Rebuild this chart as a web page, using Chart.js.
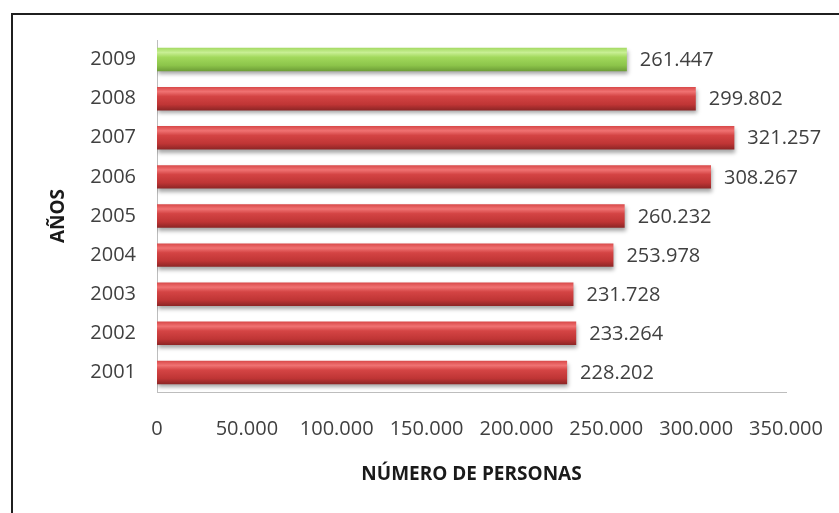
<!DOCTYPE html>
<html>
<head>
<meta charset="utf-8">
<script src="https://cdn.jsdelivr.net/npm/chart.js@4.4.1/dist/chart.umd.min.js"></script>
<style>
    body { margin: 0; background: #fff; }
    #wrap { position: relative; width: 839px; height: 513px; overflow: hidden; }
    #frame { position: absolute; left: 11px; top: 13px; width: 900px; height: 600px;
             border-left: 2px solid #1f1f1f; border-top: 2px solid #1f1f1f; }
    #chart { position: absolute; left: 0; top: 0; }
</style>
</head>
<body>
<div id="wrap">
    <div id="frame"></div>
    <canvas id="chart" width="839" height="513"></canvas>
</div>
<script>
// datos
const years = ['2009', '2008', '2007', '2006', '2005', '2004', '2003', '2002', '2001'];
const personas = [261447, 299802, 321257, 308267, 260232, 253978, 231728, 233264, 228202];
const xTicks = [0, 50000, 100000, 150000, 200000, 250000, 300000, 350000];

const FONT = "'Open Sans', sans-serif";
const barPct = 0.6, catPct = 1.0;

// 12345 -> "12.345"
const fmt = v => String(v).replace(/\B(?=(\d{3})+(?!\d))/g, '.');

// cylinder look: vertical gradient per bar
function barFill(ctx) {
    const chart = ctx.chart;
    const y = chart.scales && chart.scales.y;
    const green = years[ctx.dataIndex] === '2009';
    if (!y || !chart.chartArea) return green ? '#9ed45a' : '#c84040';
    const cy = y.getPixelForValue(ctx.dataIndex);
    const h = (y.height / years.length) * barPct * catPct;
    const g = chart.ctx.createLinearGradient(0, cy - h / 2, 0, cy + h / 2);
    if (green) {
        g.addColorStop(0, '#a4da62');
        g.addColorStop(0.2, '#c8ef94');
        g.addColorStop(0.4, '#a2d95c');
        g.addColorStop(0.75, '#8cc44a');
        g.addColorStop(1, '#6c9c36');
    } else {
        g.addColorStop(0, '#d84848');
        g.addColorStop(0.2, '#f07272');
        g.addColorStop(0.4, '#d44444');
        g.addColorStop(0.75, '#bf3535');
        g.addColorStop(1, '#8c2525');
    }
    return g;
}

const barShadow = {
    id: 'barShadow',
    beforeDatasetsDraw(chart) {
        const c = chart.ctx;
        c.save();
        c.shadowColor = 'rgba(0,0,0,0.35)';
        c.shadowBlur = 4;
        c.shadowOffsetX = 1;
        c.shadowOffsetY = 3;
    },
    afterDatasetsDraw(chart) {
        chart.ctx.restore();
    }
};

const valueLabels = {
    id: 'valueLabels',
    afterDraw(chart) {
        const c = chart.ctx;
        const meta = chart.getDatasetMeta(0);
        c.save();
        c.font = '20px ' + FONT;
        c.fillStyle = '#404040';
        c.textAlign = 'left';
        c.textBaseline = 'middle';
        meta.data.forEach((bar, i) => {
            c.fillText(fmt(personas[i]), bar.x + 13, bar.y + 1);
        });
        c.restore();
    }
};

new Chart(document.getElementById('chart'), {
    type: 'bar',
    data: {
        labels: years,
        datasets: [{
            data: personas,
            backgroundColor: barFill,
            borderWidth: 0,
            barPercentage: barPct,
            categoryPercentage: catPct
        }]
    },
    options: {
        indexAxis: 'y',
        responsive: false,
        animation: false,
        devicePixelRatio: 1,
        layout: { padding: { left: 0, top: 40, right: 53, bottom: 0 } },
        plugins: { legend: { display: false }, tooltip: { enabled: false } },
        scales: {
            x: {
                min: 0, max: 350000,
                afterBuildTicks: s => { s.ticks = xTicks.map(v => ({ value: v })); },
                afterFit: s => { s.height = 121; s.paddingLeft = 0; s.paddingRight = 0; },
                grid: { display: false, drawTicks: false },
                border: { display: true, color: '#bdbdbd', width: 1 },
                ticks: { padding: 25, maxRotation: 0, color: '#404040', font: { family: FONT, size: 20 }, callback: v => fmt(v) },
                title: { display: true, text: 'NÚMERO DE PERSONAS', color: '#1a1a1a',
                         font: { family: FONT, size: 19, weight: 'bold' }, padding: { top: 0, bottom: 27 } }
            },
            y: {
                afterFit: s => { s.width = 157; },
                grid: { display: false, drawTicks: false },
                border: { display: true, color: '#bdbdbd', width: 1 },
                ticks: { padding: 21, color: '#404040', font: { family: FONT, size: 20 } },
                title: { display: true, text: 'AÑOS', color: '#1a1a1a',
                         font: { family: FONT, size: 19, weight: 'bold' }, padding: { top: 47, bottom: 0 } }
            }
        }
    },
    plugins: [barShadow, valueLabels]
});
</script>
</body>
</html>
